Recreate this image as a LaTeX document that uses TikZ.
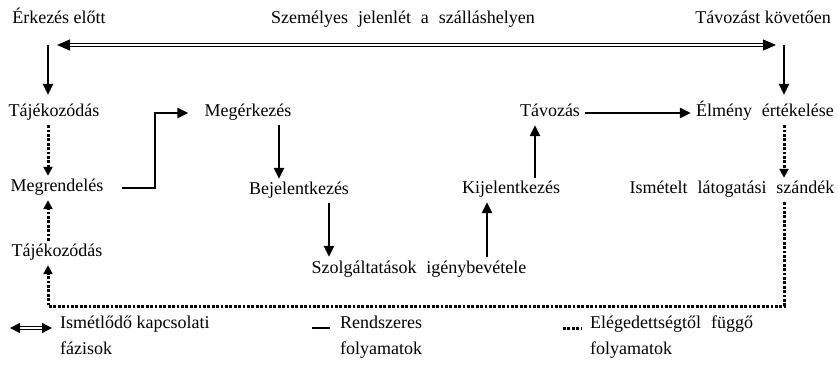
\documentclass[tikz,border=0pt]{standalone}
\usepackage{fontspec}
\setmainfont{Liberation Serif}[WordSpace=2.2]
\usetikzlibrary{arrows.meta}

\newcommand{\nsp}{\hspace{4.5pt}}

\begin{document}
\begin{tikzpicture}[x=1pt,y=-1pt,
    every node/.style={font=\fontsize{18}{26}\selectfont},
    lbl/.style={inner xsep=5pt, inner ysep=4pt, text height=12pt, text depth=4pt},
    legtext/.style={align=left, anchor=north west, inner sep=0pt},
    arr/.style={line width=2.6pt, -{Triangle[length=11pt,width=10pt]}},
    dotarr/.style={line width=3pt, dash pattern=on 2.8pt off 1.6pt, -{Triangle[length=9pt,width=9pt]}},
    twoway/.style={double, double distance=1.8pt, line width=1.2pt,
        {Triangle[length=13pt,width=11pt]}-{Triangle[length=13pt,width=11pt]}}]

    \useasboundingbox (0,0) rectangle (838,366);

    % the three phases on top
    \node[lbl] (erk) at (59,20) {Érkezés\nsp előtt};
    \node[lbl] (szem) at (403,20) {Személyes jelenlét a szálláshelyen};
    \node[lbl] (tavk) at (763,20) {Távozást\nsp követően};

    \node[lbl] (taj1) at (54,113) {Tájékozódás};
    \node[lbl] (megerk) at (248,113) {Megérkezés};
    \node[lbl] (tav) at (550,113) {Távozás};
    \node[lbl] (elmeny) at (765,113) {Élmény értékelése};

    \node[lbl] (megr) at (57,188) {Megrendelés};
    \node[lbl] (bej) at (299,191) {Bejelentkezés};
    \node[lbl] (kij) at (511,190) {Kijelentkezés};
    \node[lbl] (ism) at (732,190) {Ismételt látogatási szándék};

    \node[lbl] (taj2) at (57,253) {Tájékozódás};
    \node[lbl] (szolg) at (419,269) {Szolgáltatások igénybevétele};

    % columns of the vertical arrows
    \coordinate (colL) at (48,0);
    \coordinate (colR) at (784,0);
    \coordinate (colM) at (155,0);
    \coordinate (colA) at (279,0);
    \coordinate (colB) at (329,0);
    \coordinate (colC) at (487,0);
    \coordinate (colD) at (535,0);
    \coordinate (bot) at (0,306);
    \coordinate (dl) at (57,45);
    \coordinate (dr) at (776,45);

    % double arrow between the phases
    \draw[twoway] (dl) -- (dr);
    \draw[arr, shorten >=6pt] (colL |- dl) -- (taj1.north -| colL);
    \draw[arr, shorten >=6pt] (colR |- dr) -- (elmeny.north -| colR);

    % regular processes
    \draw[arr] ([xshift=13pt]megr.east) -- (colM |- megr) |- ([xshift=-11pt]megerk.west);
    \draw[arr] (megerk.south -| colA) -- (bej.north -| colA);
    \draw[arr] (bej.south -| colB) -- (szolg.north -| colB);
    \draw[arr] (szolg.north -| colC) -- (kij.south -| colC);
    \draw[arr] (kij.north -| colD) -- (tav.south -| colD);
    \draw[arr] (tav.east) -- (elmeny.west);

    % processes depending on satisfaction
    \draw[dotarr] (taj1.south -| colL) -- (megr.north -| colL);
    \draw[dotarr] (elmeny.south -| colR) -- (ism.north -| colR);
    \draw[dotarr] (ism.south -| colR) -- (colR |- bot) -- (colL |- bot) -- (taj2.south -| colL);
    \draw[dotarr] (taj2.north -| colL) -- (megr.south -| colL);

    % legend
    \coordinate (k1a) at (10,328);
    \coordinate (k1b) at (52,328);
    \coordinate (k2a) at (312,328);
    \coordinate (k2b) at (330,328);
    \coordinate (k3a) at (563,328);
    \coordinate (k3b) at (582,328);
    \draw[twoway, {Triangle[length=10pt,width=10pt]}-{Triangle[length=10pt,width=10pt]}] (k1a) -- (k1b);
    \draw[line width=2.6pt] (k2a) -- (k2b);
    \draw[line width=3pt, dash pattern=on 2.8pt off 1.6pt] (k3a) -- (k3b);
    \node[legtext] (leg1) at (60,316) {Ismétlődő\nsp kapcsolati\\fázisok};
    \node[legtext] (leg2) at (340,316) {Rendszeres\\folyamatok};
    \node[legtext] (leg3) at (590,316) {Elégedettségtől függő\\folyamatok};

\end{tikzpicture}
\end{document}
